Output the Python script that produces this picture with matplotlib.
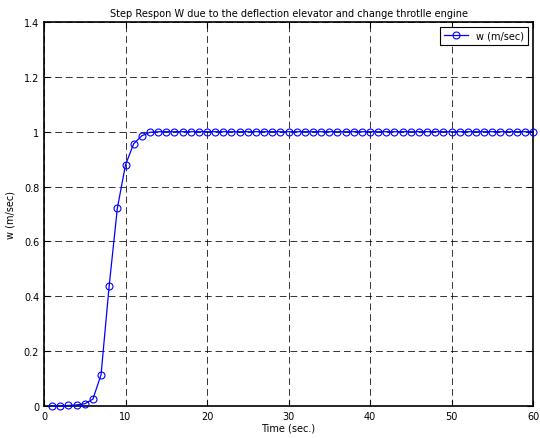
import matplotlib
matplotlib.use("Agg")
import matplotlib.pyplot as plt

time_s = list(range(1, 61))
w_head = [0.0, 0.0, 0.002, 0.004, 0.008, 0.025, 0.114, 0.439, 0.721, 0.879, 0.956, 0.985, 0.998]
w_vals = w_head + [1.0] * (len(time_s) - len(w_head))

xticks = [0, 10, 20, 30, 40, 50, 60]
yticks = [0, 0.2, 0.4, 0.6, 0.8, 1, 1.2, 1.4]
ytick_labels = ["0", "0.2", "0.4", "0.6", "0.8", "1", "1.2", "1.4"]

fig = plt.figure(figsize=(5.4, 4.39), dpi=100)
ax = fig.add_axes([44 / 540, 1 - 407 / 439, (533 - 44) / 540, (407 - 23) / 439])
ax.plot(time_s, w_vals, color="#0000ff", lw=0.9, marker="o", ms=5,
        mfc="none", mec="#0000ff", mew=0.8, label="w (m/sec)", clip_on=False, zorder=3)
ax.set_xlim(0, 60)
ax.set_ylim(0, 1.4)
ax.set_xticks(xticks)
ax.set_yticks(yticks)
ax.set_yticklabels(ytick_labels)
ax.tick_params(direction="in", labelsize=7, length=4, width=0.8, top=True, right=True)
ax.grid(True, color="black", linestyle=(0, (7, 4)), lw=0.7, alpha=0.8)
for s in ax.spines.values():
    s.set_linewidth(1.2)
ax.set_title("Step Respon W due to the deflection elevator and change throtlle engine",
             fontsize=7, pad=4)
ax.set_xlabel("Time (sec.)", fontsize=7, labelpad=1)
ax.set_ylabel("w (m/sec)", fontsize=7, labelpad=6)
leg = ax.legend(loc="upper right", fontsize=7, fancybox=False, framealpha=1,
                edgecolor="black", borderaxespad=0.5, handlelength=2.5)
leg.get_frame().set_linewidth(0.8)
fig.savefig("out.png", dpi=100)
